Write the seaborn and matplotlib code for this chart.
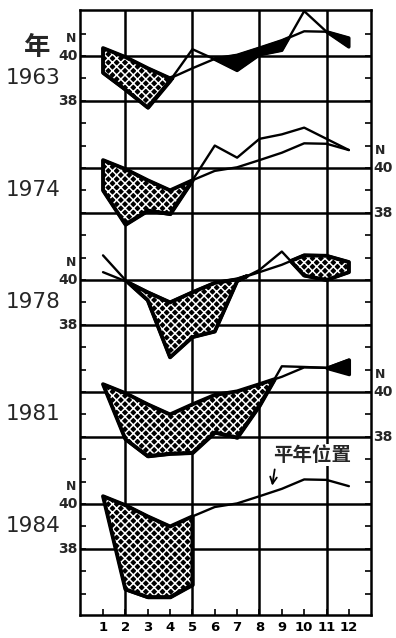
import numpy as np
import pandas as pd
import matplotlib
matplotlib.use("Agg")
import matplotlib.pyplot as plt
import matplotlib.transforms as mtransforms
import seaborn as sns

#Months and the normal ridge position (deg N)
months = np.arange(1, 13)
normal = [40.35, 39.95, 39.45, 39.0, 39.45, 39.87, 40.03, 40.35, 40.68, 41.1, 41.08, 40.8]

#Ridge position of each year (deg N)
years = ["1963", "1974", "1978", "1981", "1984"]
lat_1963 = [39.25, 38.5, 37.7, 38.9, 40.3, 39.85, 39.35, 40.05, 40.25, 42.0, 41.08, 40.4]
lat_1974 = [39.0, 37.48, 38.1, 37.95, 39.45, 41.0, 40.46, 41.3, 41.5, 41.8, 41.3, 40.8]
lat_1978 = [41.1, 40.0, 39.1, 36.55, 37.45, 37.7, 39.95, 40.45, 41.27, 40.2, 40.0, 40.35]
lat_1981 = [40.35, 37.9, 37.14, 37.25, 37.29, 38.2, 37.97, 39.4, 41.15, 41.12, 41.08, 41.45]
lat_1984 = [40.35, 36.2, 35.85, 35.85, 36.4]
year_lats = [lat_1963, lat_1974, lat_1978, lat_1981, lat_1984]

#Shaded spans: (first month, last month, texture, side of the normal)
shade_spans = {
    "1963": [(1, 4, "stipple", "below"), (5, 12, "black", "below")],
    "1974": [(1, 5, "stipple", "below")],
    "1978": [(1, 12, "stipple", "below")],
    "1981": [(1, 9, "stipple", "below"), (11, 12, "black", "above")],
    "1984": [(1, 5, "stipple", "below")],
}
label_side = {"1963": "left", "1974": "right", "1978": "left", "1981": "right", "1984": "left"}
grid_lats = [40, 38]
grid_months = [2, 5, 8, 11]

sns.set_theme(style="white")
plt.rcParams["font.family"] = ["DejaVu Sans", "Noto Sans CJK SC"]
plt.rcParams["hatch.linewidth"] = 1.1

STEP = 5  #vertical offset between the stacked years (deg)

fig = plt.figure(figsize=(3.96, 6.38), dpi=100)
ax = fig.add_axes([80/396, 23/638, 291/396, 605/638])
ax.set_xlim(-0.03, 12.99)
ax.set_ylim(15.05, 42.05)

trans_l = mtransforms.blended_transform_factory(ax.transAxes, ax.transData)

#Grid
for k in range(len(years)):
    for g in grid_lats:
        ax.axhline(g - STEP*k, color="black", lw=1.8, zorder=1)
for m in grid_months:
    ax.axvline(m, color="black", lw=1.8, zorder=1)

for k, (yr, lat) in enumerate(zip(years, year_lats)):
    off = STEP*k
    n = len(lat)
    x = months[:n]
    y_year = np.array(lat) - off
    y_norm = np.array(normal[:n]) - off
    y_norm_full = np.array(normal) - off

    #Shading between the year line and the normal
    for a, b, style, side in shade_spans[yr]:
        span = (x >= a) & (x <= b)
        mask = span & (y_year <= y_norm) if side == "below" else span & (y_year >= y_norm)
        ax.fill_between(x, y_year, y_norm, where=mask, interpolate=True,
                        facecolor="black", edgecolor="black", lw=2.4, zorder=3)
        if style == "stipple":
            ax.fill_between(x, y_year, y_norm, where=mask, interpolate=True,
                            facecolor="none", edgecolor="white", hatch="xxxx", lw=0, zorder=4)
            ax.fill_between(x, y_year, y_norm, where=mask, interpolate=True,
                            facecolor="none", edgecolor="black", lw=2.8, zorder=5)

    #Lines
    df = pd.DataFrame({"month": months, "lat": y_norm_full})
    sns.lineplot(data=df, x="month", y="lat", color="black", lw=1.7, ax=ax, zorder=6)
    df_y = pd.DataFrame({"month": x, "lat": y_year})
    sns.lineplot(data=df_y, x="month", y="lat", color="black", lw=1.7, ax=ax, zorder=6)

    #Year label
    ax.text(-0.16, 39.0 - off, yr, transform=trans_l, ha="center", va="center",
            fontsize=15.5)

    #Latitude labels
    if label_side[yr] == "left":
        xl, xn, ha = -0.007, -0.014, "right"
    else:
        xl, xn, ha = 1.007, 1.014, "left"
    ax.text(xn, 40.8 - off, "N", transform=trans_l, ha=ha, va="center",
            fontsize=9, fontweight="bold")
    for g in grid_lats:
        ax.text(xl, g - off, str(g), transform=trans_l, ha=ha, va="center",
                fontsize=10, fontweight="bold")

ax.text(-0.148, 40.36, "年", transform=trans_l, ha="center", va="center",
        fontsize=19, fontweight="bold", family=["Noto Sans CJK SC", "DejaVu Sans"])

#Normal position label with arrow
ax.text(10.35, 22.19, "平年位置", ha="center", va="center", fontsize=14,
        fontweight="bold", family=["Noto Sans CJK SC", "DejaVu Sans"], zorder=7,
        bbox=dict(facecolor="white", edgecolor="none", pad=1))
ax.annotate("", xy=(8.55, 20.7), xytext=(8.7, 21.67),
            arrowprops=dict(arrowstyle="->", color="black", lw=1.3), zorder=7)

#Axes and ticks
ax.set_xticks(months)
ax.set_xticklabels([str(m) for m in months], fontsize=9.5, fontweight="bold")
ax.set_yticks(np.arange(16, 42))
ax.set_yticklabels([])
ax.tick_params(axis="x", direction="in", length=4, width=1.2, bottom=True, pad=4, colors="black")
ax.tick_params(axis="y", direction="in", length=4, width=1.2, left=True, right=True,
               labelleft=False, colors="black")
ax.set_xlabel("")
ax.set_ylabel("")
for s in ax.spines.values():
    s.set_linewidth(1.8)
    s.set_color("black")

fig.savefig("out.png", dpi=100)
